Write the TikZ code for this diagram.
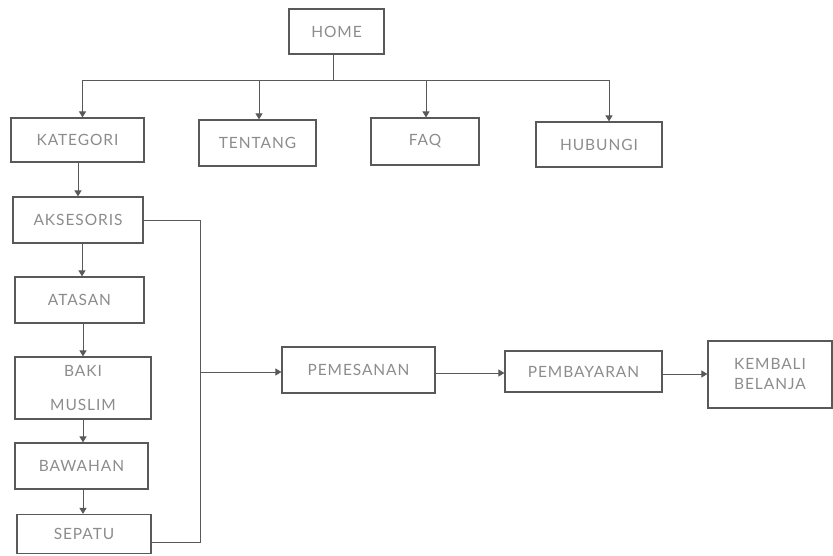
\documentclass[tikz,border=0pt]{standalone}
\usepackage{fontspec}
\newfontfamily\menufont[LetterSpace=6]{Lato}
\usetikzlibrary{arrows.meta}
\usetikzlibrary{calc}

\begin{document}
\begin{tikzpicture}[x=1pt,y=-1pt,
        menu/.style={draw=black!65,line width=1.2pt,inner sep=0pt,align=center,
            font=\menufont\fontsize{15.5}{20}\selectfont,text=black!45},
        arr/.style={draw=black!65,line width=1pt,-{Triangle[length=6pt,width=7pt]}},
        line/.style={draw=black!65,line width=1pt}]
            \useasboundingbox (0,0) rectangle (833,555);

            \node[menu,minimum width=95pt,minimum height=45pt] (home) at (336.5,31.5) {HOME};

            \node[menu,minimum width=133pt,minimum height=44pt] (kategori) at (77.5,140) {KATEGORI};
            \node[menu,minimum width=117pt,minimum height=46pt] (tentang) at (257.5,143) {TENTANG};
            \node[menu,minimum width=108pt,minimum height=47pt] (faq) at (425,141.5) {FAQ};
            \node[menu,minimum width=126pt,minimum height=45pt] (hubungi) at (599,144.5) {HUBUNGI};

            \node[menu,minimum width=130pt,minimum height=46pt] (aksesoris) at (78,220) {AKSESORIS};
            \node[menu,minimum width=129pt,minimum height=46pt] (atasan) at (79.5,300) {ATASAN};
            \node[menu,minimum width=136pt,minimum height=62pt] (baki) at (83,388) {BAKI\\[14pt]MUSLIM};
            \node[menu,minimum width=133pt,minimum height=46pt] (bawahan) at (81.5,466) {BAWAHAN};
            \node[menu,minimum width=134pt,minimum height=39pt] (sepatu) at (84,534) {SEPATU};

            \node[menu,minimum width=153pt,minimum height=46pt] (pemesanan) at (358.5,370) {PEMESANAN};
            \node[menu,minimum width=157pt,minimum height=41pt] (pembayaran) at (583.5,371.5) {PEMBAYARAN};
            \node[menu,minimum width=124pt,minimum height=67pt] (kembali) at (770,374.5) {KEMBALI\\BELANJA};

            % percabangan dari home
            \coordinate (bus) at (333,80);
            \coordinate (gabung) at (200,372);

            \draw[line] ([xshift=-3.5pt]home.south) -- ([xshift=-3.5pt]home.south |- bus);
            \draw[arr] (bus) -| ([xshift=5pt]kategori.north);
            \draw[arr] (bus) -| ([xshift=1.5pt]tentang.north);
            \draw[arr] (bus) -| ([xshift=1pt]faq.north);
            \draw[arr] (bus) -| ([xshift=10pt]hubungi.north);

            % kategori produk
            \draw[arr] (kategori.south -| aksesoris.north) -- (aksesoris.north);
            \draw[arr] ([xshift=4pt]aksesoris.south) -- ([xshift=4pt]aksesoris.south |- atasan.north);
            \draw[arr] ([xshift=3.5pt]atasan.south) -- ([xshift=3.5pt]atasan.south |- baki.north);
            \draw[arr] (baki.south) -- (baki.south |- bawahan.north);
            \draw[arr] ([xshift=1.5pt]bawahan.south) -- ([xshift=1.5pt]bawahan.south |- sepatu.north);

            % alur pemesanan
            \draw[line] (aksesoris.east) -| (gabung);
            \draw[line] ([yshift=-8pt]sepatu.east) -| (gabung);
            \draw[arr] (gabung) -- (gabung -| pemesanan.west);
            \draw[arr] ([yshift=-3pt]pemesanan.east) -- ([yshift=-3pt]pemesanan.east -| pembayaran.west);
            \draw[arr] ([yshift=-2.5pt]pembayaran.east) -- ([yshift=-2.5pt]pembayaran.east -| kembali.west);
        \end{tikzpicture}
\end{document}
